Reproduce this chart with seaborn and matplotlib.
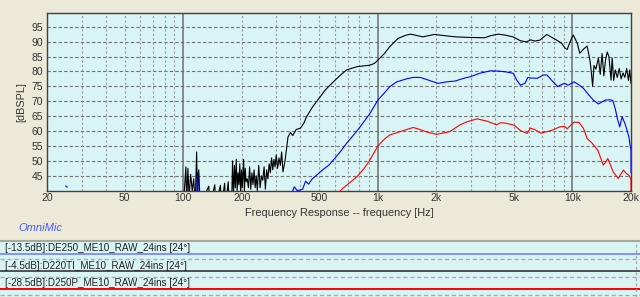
import numpy as np
import pandas as pd
import matplotlib
matplotlib.use("Agg")
import matplotlib.pyplot as plt
import seaborn as sns
from matplotlib.lines import Line2D
from matplotlib.patches import Rectangle

# ---------------- data ----------------
black_freq = [100, 103, 104, 105.5, 107, 109, 111, 113, 115, 117, 118, 120, 122,
              135, 137, 145, 147, 155, 157, 163, 165, 170, 172,
              177, 179, 181, 183, 185, 187, 189, 191, 193, 195, 197, 199, 201, 204, 206,
              208, 210, 213, 216, 219, 222, 225, 228, 231, 234, 237, 240, 244, 248, 252,
              256, 260, 264, 268, 272, 276, 280, 284, 288, 292, 296, 300, 305, 310, 315,
              320, 325, 333, 345, 355, 365, 380, 400, 415, 430, 460, 505, 540, 590, 640,
              690, 780, 910, 960, 1000, 1080, 1150, 1270, 1400, 1470, 1550, 1700, 1950,
              2200, 2500, 2980, 3540, 3800, 4150, 4500, 4950, 5400, 5800, 6100, 6400,
              6800, 7100, 7380, 8000, 8400, 8800, 9200, 9400, 9800, 10100, 10600, 10900,
              11400, 11900, 12300, 12500, 12700, 12900, 13200, 13600, 13900, 14200,
              14500, 14800, 15100, 15400, 15800, 16000, 16300, 16600, 17000, 17400,
              17800, 18200, 18600, 19000, 19400, 19700, 20000]
black_spl = [35, 48, 36, 47.5, 38, 45.5, 40, 44, 35, 53, 38, 47, 35,
             41.5, 35, 42, 35, 41.8, 35, 42.5, 35, 43, 35,
             35, 50, 38, 48.5, 41, 50.5, 40, 46, 42, 49, 39, 47, 41, 50.5, 40,
             47.5, 43, 44, 41, 48, 40.5, 46, 42, 47, 41, 45, 40, 48.5, 41, 45,
             43.5, 48, 40.5, 47, 44, 49, 46, 51, 47, 50.5, 48, 52, 47.5, 51, 48.5,
             53, 46.3, 50, 58, 59.5, 58.5, 60.5, 61, 62.5, 64.8, 68, 71.5, 74, 76.5, 78.7,
             80.5, 81.6, 82.1, 82.7, 83.8, 86, 88.3, 91.1, 92.2, 92.5, 92.2, 91.6, 92.4,
             92.0, 91.6, 91.4, 91.3, 92.0, 92.5, 92.2, 91.6, 90.3, 89.9, 90.6, 90.2,
             90.5, 91.5, 92.4, 91.1, 90.3, 89.4, 87.7, 87.4, 90.5, 92.2, 89.4, 86.1,
             87.5, 88.5, 83.8, 80, 75, 82, 80.8, 84.5, 79, 86,
             78.5, 84, 86.5, 85, 77.1, 84.5, 77, 80.5, 78, 81,
             77.5, 79.5, 78, 81, 77, 80.5, 76]

blue_freq = [24.8, 25.3,
             117.3, 118, 118.6, 119.2,
             355, 372, 385, 410, 425, 440, 460, 490, 520, 560, 590, 640, 690, 750, 810,
             910, 1000, 1080, 1150, 1250, 1400, 1520, 1650, 1780, 2040, 2250, 2500,
             2760, 2980, 3340, 3780, 4200, 4500, 4960, 5170, 5400, 5700, 5900, 6100,
             6600, 7100, 7400, 7800, 8400, 8700, 9100, 9500, 10200, 10800, 11400,
             12000, 12800, 13600, 14200, 14800, 15500, 16100, 16600, 17000, 17500,
             18000, 18700, 19500, 19800, 20000, 20000]
blue_spl = [41.6, 41.2,
            35, 46, 44, 35,
            38, 41.3, 40, 40.5, 43.2, 42.2, 44, 45.5, 47, 48.6, 50.3, 53, 55.9, 58.7, 61.4,
            65.9, 70.4, 72.8, 74.9, 76.5, 77.5, 78, 78, 77.3, 76, 76.5, 76.8,
            77.7, 78.2, 79.4, 80.2, 80.1, 79.9, 79.4, 77.1, 75.4, 76, 78, 77.8,
            77.7, 78.8, 78.8, 77.1, 74.9, 75.5, 76, 75.4, 76.5, 75.5, 74.3,
            72.5, 70.4, 69.1, 69.8, 70.4, 70.5, 70.3, 67.5, 64.3, 61.4,
            64.8, 62.2, 58.1, 55, 53.7, 46]
blue_unit = [0, 0, 1, 1, 1, 1] + [2] * 66

red_freq = [600, 660, 720, 780, 850, 910, 1000, 1080, 1150, 1300, 1450, 1520, 1650,
            1800, 2000, 2340, 2630, 2870, 3240, 3650, 4070, 4270, 4500, 5000, 5400,
            5850, 6070, 6400, 6850, 7600, 8000, 8600, 9100, 9400, 10200, 10800, 11400,
            11900, 12600, 13500, 14400, 14800, 15200, 15700, 16200, 17200, 17700,
            18300, 18900, 19500, 20000, 20000]
red_spl = [38, 40.8, 42.8, 44.7, 47.5, 50.3, 55, 57.3, 58.7, 59.8, 60.8, 61.2, 60.5,
           59.6, 58.9, 59.8, 62, 63.1, 64.1, 63.3, 62.1, 62.8, 62.7, 62, 60.2,
           59.2, 61, 60.5, 59.3, 60, 60.5, 61.4, 61.6, 60.8, 63, 62.9, 60.9,
           57.5, 56, 53.6, 48.6, 49.5, 50.8, 48.5, 46.3, 44.1, 45.5,
           46.9, 45.8, 45.2, 44, 38]

series_names = ["D220TI", "DE250", "D250P"]
series_colors = {"D220TI": "#000000", "DE250": "#0000FF", "D250P": "#FF0000"}

legend_labels = ["[-13.5dB]:DE250_ME10_RAW_24ins [24\u00b0]",
                 "[-4.5dB]:D220TI_ME10_RAW_24ins [24\u00b0]",
                 "[-28.5dB]:D250P_ME10_RAW_24ins [24\u00b0]"]
legend_colors = ["#8090FF", "#505050", "#FF0000"]

y_ticks = [45, 50, 55, 60, 65, 70, 75, 80, 85, 90, 95]
x_ticks = [20, 50, 100, 200, 500, 1000, 2000, 5000, 10000, 20000]
x_ticklabels = ["20", "50", "100", "200", "500", "1k", "2k", "5k", "10k", "20k"]

# ---------------- frame ----------------
df = pd.concat([
    pd.DataFrame({"freq": black_freq, "spl": black_spl, "series": "D220TI", "unit": 10}),
    pd.DataFrame({"freq": blue_freq, "spl": blue_spl, "series": "DE250",
                  "unit": [u + 20 for u in blue_unit]}),
    pd.DataFrame({"freq": red_freq, "spl": red_spl, "series": "D250P", "unit": 30}),
], ignore_index=True)

sns.set_theme(style="white")
plt.rcParams["font.family"] = ["Liberation Sans", "DejaVu Sans"]

BG = "#ECE9D8"
PLOTBG = "#D9F4F5"
TXT = "#333333"

fig = plt.figure(figsize=(6.4, 2.97), dpi=100, facecolor=BG)
W, H = 640.0, 297.0
ax = fig.add_axes([47.4 / W, 1 - 190.7 / H, (631 - 47.4) / W, (190.7 - 13.3) / H])
ax.set_facecolor(PLOTBG)
ax.set_xscale("log")
ax.set_xlim(20, 20000)
ax.set_ylim(40, 99.5)

# grid
for yv in y_ticks:
    ax.axhline(yv, color="#707070", lw=0.8, ls=(0, (3, 2)), zorder=1)
for dec in [10, 100, 1000, 10000]:
    for m in range(2, 10):
        f = dec * m
        if 20 <= f <= 20000:
            ax.axvline(f, color="#9A9A9A", lw=0.8, ls=(0, (2, 2)), zorder=1)
for f in [100, 1000, 10000]:
    ax.axvline(f, color="#6E6E6E", lw=1.1, zorder=1.5)

sns.lineplot(data=df, x="freq", y="spl", hue="series", units="unit",
             estimator=None, sort=False, palette=series_colors,
             hue_order=series_names, legend=False, lw=0.8, ax=ax, zorder=3)

ax.set_xticks(x_ticks)
ax.set_xticklabels(x_ticklabels)
ax.xaxis.set_minor_locator(matplotlib.ticker.NullLocator())
ax.set_yticks(y_ticks)
ax.set_yticklabels([str(v) for v in y_ticks])
ax.tick_params(axis="both", length=0, labelsize=7.5, colors=TXT)
ax.tick_params(axis="x", pad=2)
ax.tick_params(axis="y", pad=3)
ax.set_xlabel("Frequency Response -- frequency [Hz]", fontsize=7.9, color=TXT, labelpad=3)
ax.set_ylabel("[dBSPL]", fontsize=7.8, color=TXT, labelpad=4)
for s in ax.spines.values():
    s.set_color("#404040")
    s.set_linewidth(1.0)
    s.set_visible(True)

# OmniMic
fig.text(18 / W, 1 - 228 / H, "OmniMic", fontsize=8.0, style="italic",
         color="#4A5CFF", va="center", ha="left")

# legend panel
fig.patches.append(Rectangle((0, 0), 1, 1 - 241 / H, transform=fig.transFigure,
                             facecolor=PLOTBG, edgecolor="none", zorder=0))
fig.add_artist(Line2D([0, 1], [1 - 241 / H] * 2, transform=fig.transFigure,
                      color="#ACA899", lw=1.5))
text_y = [247.7, 265.7, 283.3]
line_y = [253.7, 271.3, 289.3]
sep_y = [259, 277, 295]
for lab, col, ty, ly, sy in zip(legend_labels, legend_colors, text_y, line_y, sep_y):
    fig.text(5 / W, 1 - ty / H, lab, fontsize=7.1, color="#222222",
             va="center", ha="left")
    fig.add_artist(Line2D([0, 1], [1 - ly / H] * 2, transform=fig.transFigure,
                          color=col, lw=1.4))
    fig.add_artist(Line2D([0, 1], [1 - sy / H] * 2, transform=fig.transFigure,
                          color="#AAAAAA", lw=1.0, ls=(0, (3, 2))))
fig.add_artist(Line2D([636 / W] * 2, [0, 1 - 241 / H], transform=fig.transFigure,
                      color="#AAAAAA", lw=1.0, ls=(0, (2, 2))))

fig.savefig("out.png", dpi=100, facecolor=BG)
